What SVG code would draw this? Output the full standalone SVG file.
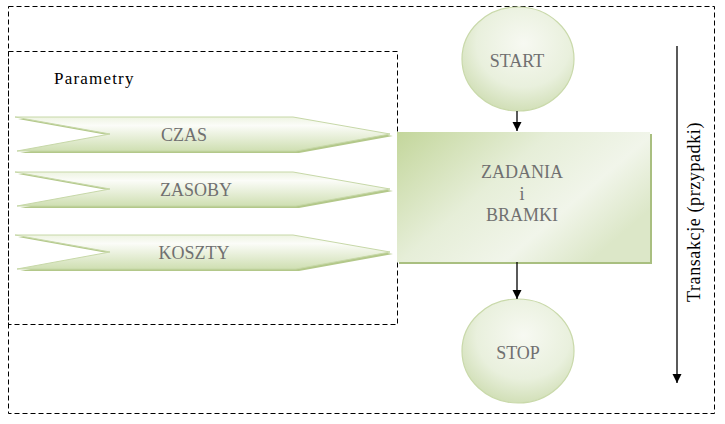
<svg xmlns="http://www.w3.org/2000/svg" width="725" height="424" viewBox="0 0 725 424">
<style>
.dash{fill:none;stroke:#000;stroke-width:1;stroke-dasharray:5 3}
.lbl{font-family:"Liberation Serif","Times New Roman",serif;font-size:18px;fill:#707070;text-anchor:middle}
.blk{font-family:"Liberation Serif","Times New Roman",serif;fill:#000}
.conn{stroke:#000;stroke-width:1.3;fill:none}
.chev{fill:url(#gChev);stroke:#c7d8a8;stroke-width:1}
.chevsh{fill:#b3c88a}
.circ{fill:url(#gCirc);stroke:#c9d9aa;stroke-width:1.2}
</style>
<defs>
<linearGradient id="gChev" x1="0" y1="0" x2="0" y2="1">
<stop offset="0" stop-color="#eef4e2"/>
<stop offset="0.25" stop-color="#fbfcf8"/>
<stop offset="1" stop-color="#cfdfb2"/>
</linearGradient>
<radialGradient id="gCirc" cx="0.55" cy="0.35" r="0.7">
<stop offset="0" stop-color="#f7f9f2"/>
<stop offset="0.6" stop-color="#e9f0dd"/>
<stop offset="1" stop-color="#cddcb0"/>
</radialGradient>
<linearGradient id="gBox" x1="0" y1="0" x2="1" y2="0.6">
<stop offset="0" stop-color="#c3d69b"/>
<stop offset="0.45" stop-color="#e6eed8"/>
<stop offset="0.75" stop-color="#f1f5ea"/>
<stop offset="1" stop-color="#dce7c8"/>
</linearGradient>
<marker id="ah" viewBox="0 0 10 10" refX="10" refY="5" markerWidth="9" markerHeight="10" markerUnits="userSpaceOnUse" orient="auto">
<path d="M0,0 L10,5 L0,10 Z" fill="#000"/>
</marker>
</defs>

<g id="frame-outer"><rect class="dash" x="8.5" y="6.5" width="706" height="407"/></g>
<g id="frame-params"><rect class="dash" x="8.5" y="51.5" width="389" height="273"/>
<text class="blk" x="54" y="84" font-size="17" letter-spacing="1.2">Parametry</text></g>

<g id="czas">
<path class="chevsh" d="M18,119 L296,119 L393,136 L299,153 L20,153 L113,136 Z"/>
<path class="chev" d="M15,117 L293,117 L390,134 L296,151 L17,151 L110,134 Z"/>
<text class="lbl" x="184" y="141">CZAS</text>
</g>
<g id="zasoby" transform="translate(0,55)">
<path class="chevsh" d="M18,119 L296,119 L393,136 L299,153 L20,153 L113,136 Z"/>
<path class="chev" d="M15,117 L293,117 L390,134 L296,151 L17,151 L110,134 Z"/>
<text class="lbl" x="196" y="141">ZASOBY</text>
</g>
<g id="koszty" transform="translate(0,118)">
<path class="chevsh" d="M18,119 L296,119 L393,136 L299,153 L20,153 L113,136 Z"/>
<path class="chev" d="M15,117 L293,117 L390,134 L296,151 L17,151 L110,134 Z"/>
<text class="lbl" x="194" y="141">KOSZTY</text>
</g>

<g id="start">
<ellipse class="circ" cx="518" cy="59" rx="56" ry="52"/>
<text class="lbl" x="517" y="67">START</text>
</g>

<g id="zadania">
<rect x="399" y="134" width="253" height="130" fill="#a9bf80"/>
<rect x="397" y="132" width="253" height="130" fill="url(#gBox)"/>
<text class="lbl" x="522" y="178">ZADANIA</text>
<text class="lbl" x="522" y="200">i</text>
<text class="lbl" x="522" y="221">BRAMKI</text>
</g>

<g id="stop">
<ellipse class="circ" cx="518" cy="351" rx="56" ry="52"/>
<text class="lbl" x="518" y="359">STOP</text>
</g>

<g id="transakcje">
<text class="blk" font-size="18" letter-spacing="0.6" text-anchor="middle" transform="translate(700,212) rotate(-90)">Transakcje (przypadki)</text>
</g>

<g id="connectors">
<line class="conn" x1="517" y1="111" x2="517" y2="131" marker-end="url(#ah)"/>
<line class="conn" x1="517" y1="262" x2="517" y2="299" marker-end="url(#ah)"/>
<line class="conn" x1="677" y1="46" x2="677" y2="383" marker-end="url(#ah)"/>
</g>
</svg>
